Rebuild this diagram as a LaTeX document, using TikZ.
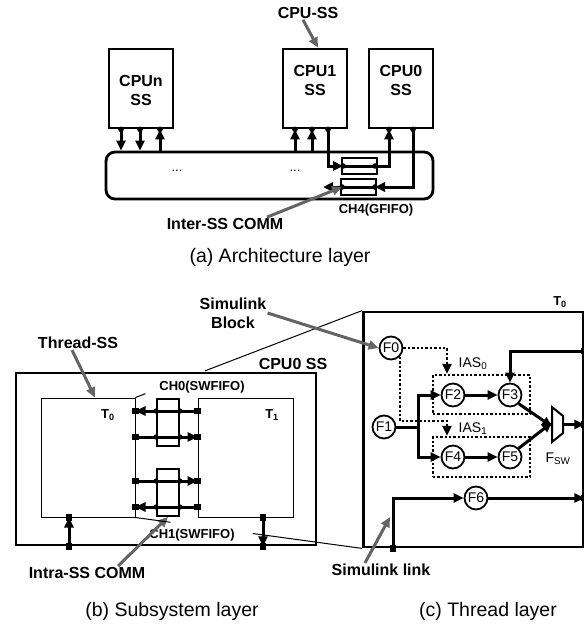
\documentclass[tikz,border=0pt]{standalone}
\usepackage{fontspec}
\setmainfont{Liberation Sans}
\usetikzlibrary{arrows.meta}
\definecolor{figG}{RGB}{100,100,100}

\begin{document}
\begin{tikzpicture}[x=1pt,y=-1pt,>={Triangle[length=10pt,width=9pt]},
  box/.style={draw,line width=2.8pt,inner sep=0pt},
  tbox/.style={draw,line width=1pt,inner sep=0pt},
  fifo/.style={draw,line width=2pt,inner sep=0pt},
  wire/.style={line width=3pt},
  note/.style={draw=figG,line width=3pt,-{Triangle[length=10pt,width=9pt]}},
  lbl/.style={font=\bfseries\fontsize{16}{19}\selectfont,align=center,inner sep=1pt},
  chl/.style={font=\bfseries\fontsize{13}{15}\selectfont,inner sep=1pt},
  captxt/.style={font=\fontsize{19.5}{22}\selectfont},
  fn/.style={circle,draw,line width=1.8pt,minimum size=23pt,inner sep=0pt,font=\fontsize{14}{16}\selectfont},
  ias/.style={draw,line width=2.4pt,dash pattern=on 2.4pt off 2pt,inner sep=0pt},
  dots/.style={line width=2.4pt,dash pattern=on 2.4pt off 2pt}]
\useasboundingbox (0,0) rectangle (584,625);

% (a) architecture layer
\node[box,minimum width=64pt,minimum height=79pt] (cpun) at (141,88.5) {};
\node[box,minimum width=64pt,minimum height=79pt] (cpu1) at (315,88.5) {};
\node[box,minimum width=64pt,minimum height=79pt] (cpu0) at (401,88.5) {};
\node[lbl] at (141,90) {CPUn\\SS};
\node[lbl] at (315,80) {CPU1\\SS};
\node[lbl] at (401,80) {CPU0\\SS};
\node[draw,line width=2.8pt,rounded corners=9pt,minimum width=327pt,minimum height=47pt] (bus) at (269.5,175.5) {};
\node[font=\fontsize{13}{15}\selectfont] at (177,171) {...};
\node[font=\fontsize{13}{15}\selectfont] at (295,171) {...};
\draw[wire,->] ([xshift=-20pt]cpun.south) -- ([xshift=-20pt]cpun.south |- bus.north);
\draw[wire,->] ([xshift=-1pt]cpun.south) -- ([xshift=-1pt]cpun.south |- bus.north);
\draw[wire,<-] ([xshift=19pt]cpun.south) -- ([xshift=19pt]cpun.south |- bus.north);
\draw[wire,<-] ([xshift=-20pt]cpu1.south) -- ([xshift=-20pt]cpu1.south |- bus.north);
\draw[wire,<-] ([xshift=-3pt]cpu1.south) -- ([xshift=-3pt]cpu1.south |- bus.north);
\node[fifo,minimum width=35pt,minimum height=16pt] (ch4a) at (359.5,166) {};
\node[fifo,minimum width=35pt,minimum height=16pt] (ch4b) at (358.5,187) {};
\coordinate (busin) at (323,187);
\draw[wire,->] ([xshift=13pt]cpu1.south) |- ([xshift=2pt]ch4a.west);
\draw[wire] ([xshift=2pt]ch4a.west) -- ([xshift=-3pt]ch4a.east);
\draw[wire,->] ([xshift=-3pt]ch4a.east) -| ([xshift=-12pt]cpu0.south);
\draw[wire,->] ([xshift=12pt]cpu0.south) |- ([xshift=-2pt]ch4b.east);
\draw[wire] ([xshift=-2pt]ch4b.east) -- ([xshift=2pt]ch4b.west);
\draw[wire,->] ([xshift=2pt]ch4b.west) -- (busin);
\foreach \n/\d in {cpun/-20,cpun/-1,cpun/19,cpu1/-20,cpu1/-3,cpu1/13,cpu0/-12,cpu0/12}
  \fill ([xshift=\d pt]\n.south) circle (2.8pt);
\foreach \n/\a/\d in {ch4a/west/2,ch4a/east/-3,ch4b/west/2,ch4b/east/-2}
  \fill ([xshift=\d pt]\n.\a) circle (2.8pt);
\node[lbl] (cpuss) at (308,13) {CPU-SS};
\draw[note] ([xshift=-5pt]cpuss.south) -- ([xshift=3pt]cpu1.north);
\node[chl] (ch4lbl) at (376,210) {CH4(GFIFO)};
\node[lbl] (inter) at (225,224) {Inter-SS COMM};
\draw[note] ([xshift=42pt]inter.north) -- ([xshift=2pt]ch4b.west);
\node[captxt] (capa) at (280,257) {(a) Architecture layer};

% (b) subsystem layer
\node[box,minimum width=300pt,minimum height=172pt] (cpu0ss) at (166,459) {};
\node[tbox,minimum width=94pt,minimum height=119pt] (t0) at (88,457.5) {};
\node[tbox,minimum width=95pt,minimum height=119pt] (t1) at (245.5,457.5) {};
\node[chl] at (108,415) {T\textsubscript{0}};
\node[chl] at (272,415) {T\textsubscript{1}};
\node[fifo,minimum width=22pt,minimum height=47pt] (ch0) at (168,422.5) {};
\node[fifo,minimum width=22pt,minimum height=47pt] (ch1) at (168,492.5) {};
\draw[wire,->] (t1.west |- 0,411) -- (t0.east |- 0,411);
\draw[wire,->] (t0.east |- 0,437) -- (t1.west |- 0,437);
\draw[wire,->] (t0.east |- 0,481) -- (t1.west |- 0,481);
\draw[wire,->] (t1.west |- 0,507) -- (t0.east |- 0,507);
\foreach \y in {411,437,481,507} {
  \fill (ch0.west |- 0,\y) circle (2.6pt);
  \fill (ch0.east |- 0,\y) circle (2.6pt);
  \fill (t0.east |- 0,\y) +(-3.2pt,-3.2pt) rectangle +(3.2pt,3.2pt);
  \fill (t1.west |- 0,\y) +(-3.2pt,-3.2pt) rectangle +(3.2pt,3.2pt);
}
\coordinate (up0) at (cpu0ss.south -| 69,0);
\coordinate (up1) at (t0.south -| 69,0);
\coordinate (dn0) at (t1.south -| 263,0);
\coordinate (dn1) at (cpu0ss.south -| 263,0);
\draw[wire,->] (up0) -- (up1);
\draw[wire,->] (dn0) -- (dn1);
\foreach \c in {up0,up1,dn0,dn1}
  \fill (\c) +(-3.2pt,-3.2pt) rectangle +(3.2pt,3.2pt);
\node[lbl] (cpu0lbl) at (293,364) {CPU0 SS};
\node[chl] (ch0lbl) at (202,387) {CH0(SWFIFO)};
\node[chl] (ch1lbl) at (192,535) {CH1(SWFIFO)};
\node[lbl] (thr) at (78,343) {Thread-SS};
\draw[note] ([xshift=-6pt]thr.south) -- ([xshift=7pt]t0.north);
\node[lbl] (intra) at (87,573) {Intra-SS COMM};
\draw[note] ([xshift=31pt]intra.north) -- (ch1.south);
\node[captxt] (capb) at (172,611) {(b) Subsystem layer};

% (c) thread layer
\node[box,minimum width=219.5pt,minimum height=235pt] (panel) at (473.25,429.5) {};
\node[chl] at (560,302) {T\textsubscript{0}};
\path (t0.north east) -- (panel.north west) coordinate[pos=0.044] (za1) coordinate[pos=0.307] (za2);
\path (t0.south east) -- (panel.south west) coordinate[pos=0.154] (zb1) coordinate[pos=0.518] (zb2);
\draw[line width=1pt] (t0.north east) -- (za1) (za2) -- (panel.north west);
\draw[line width=1pt] (t0.south east) -- (zb1) (zb2) -- (panel.south west);
\node[ias,minimum width=97pt,minimum height=39pt] (ias0) at (481.5,394.5) {};
\node[ias,minimum width=97pt,minimum height=40pt] (ias1) at (481.5,457) {};
\node[font=\fontsize{14}{16}\selectfont] at (473,364) {IAS\textsubscript{0}};
\node[font=\fontsize{14}{16}\selectfont] at (473,429) {IAS\textsubscript{1}};
\node[fn] (f0) at (391,348) {F0};
\node[fn] (f1) at (384,427) {F1};
\node[fn] (f2) at (453,395) {F2};
\node[fn] (f3) at (510,395) {F3};
\node[fn] (f4) at (453,457) {F4};
\node[fn] (f5) at (510,457) {F5};
\node[fn] (f6) at (476,498) {F6};
\draw[line width=2pt] (552,407) -- (563,416) -- (563,433) -- (552,442) -- cycle;
\coordinate (muxin) at (552,424.5);
\coordinate (muxout) at (563,424.5);
\node[font=\fontsize{14}{16}\selectfont] at (558,459) {F\textsubscript{SW}};
\draw[dots,->] (f0.east) -| (ias0.north -| 447,0);
\draw[dots,->] (f0.-45) -- (f0.-45 |- 0,421) -| (ias1.north -| 447,0);
\coordinate (fork) at (418,427);
\draw[wire] (f1.east) -- (fork);
\draw[wire,->] (fork) |- (f2.west);
\draw[wire,->] (fork) |- (f4.west);
\draw[wire,->] (f2) -- (f3);
\draw[wire,->] (f4) -- (f5);
\draw[wire,->] (f3.-45) -- ([yshift=-2pt]muxin);
\draw[wire,->] (f5.45) -- ([yshift=2pt]muxin);
\coordinate (pin0) at (panel.east |- 0,351);
\coordinate (pin1) at (panel.east |- muxout);
\coordinate (pin2) at (panel.east |- f6.east);
\coordinate (pin3) at (panel.south -| 393,0);
\draw[wire,->] (muxout) -- (pin1);
\draw[wire,->] (pin0) -| (f3.north);
\draw[wire,->] (pin3) |- (f6.west);
\draw[wire,->] (f6.east) -- (pin2);
\foreach \c in {pin0,pin1,pin2,pin3}
  \fill (\c) +(-3.2pt,-3.2pt) rectangle +(3.2pt,3.2pt);
\node[lbl] (sblk) at (233,313) {Simulink\\Block};
\draw[note] (sblk.east) -- (f0.west);
\node[lbl] (slink) at (381,570) {Simulink link};
\coordinate (lnk) at (390,517);
\draw[note] ([xshift=-16pt]slink.north) -- (lnk);
\node[captxt] (capc) at (488,611) {(c) Thread layer};
\end{tikzpicture}
\end{document}
